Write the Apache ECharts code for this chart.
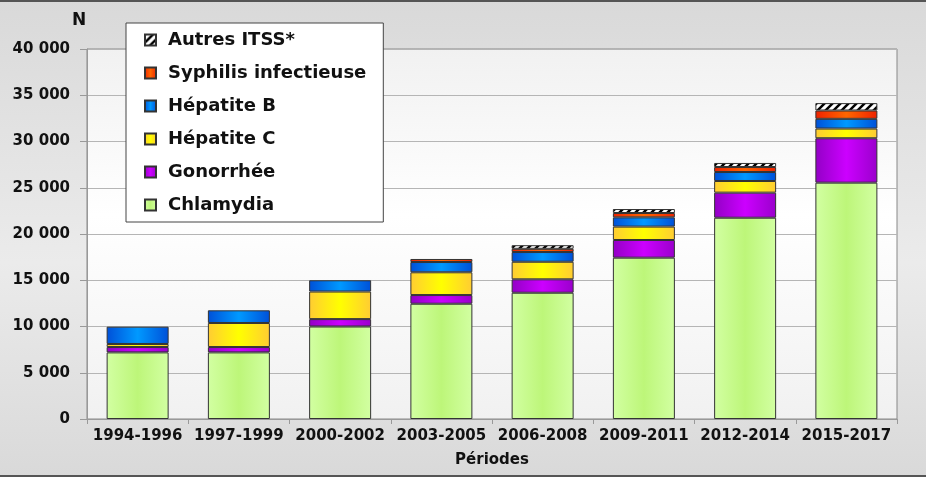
<!DOCTYPE html>
<html>
<head>
<meta charset="utf-8">
<script src="https://cdn.jsdelivr.net/npm/echarts@6/dist/echarts.min.js"></script>
<style>
html, body { margin: 0; padding: 0; }
#chart { width: 926px; height: 477px; }
</style>
</head>
<body>
<div id="chart"></div>
<script>
var periodes = ['1994-1996', '1997-1999', '2000-2002', '2003-2005', '2006-2008', '2009-2011', '2012-2014', '2015-2017'];
var chlamydia = [7200, 7200, 10000, 12460, 13650, 17440, 21760, 25550];
var gonorrhee = [580, 580, 800, 940, 1450, 1910, 2710, 4800];
var hepatiteC = [330, 2600, 2980, 2460, 1900, 1450, 1260, 1050];
var hepatiteB = [1870, 1370, 1220, 1110, 1050, 1000, 970, 1050];
var syphilis = [null, null, null, 330, 350, 470, 540, 900];
var autres = [null, null, null, null, 390, 430, 440, 800];
var yTicks = { min: 0, max: 40000, interval: 5000 };

var FONT = 'DejaVu Sans';

function hgrad(edge, center, edge2){
	return new echarts.graphic.LinearGradient(0, 0, 1, 0, [
		{ offset: 0, color: edge },
		{ offset: 0.5, color: center },
		{ offset: 1, color: edge2 || edge }
	]);
}

function hatch(){
	var c = document.createElement('canvas');
	c.width = 8; c.height = 8;
	var ctx = c.getContext('2d');
	ctx.fillStyle = '#fff';
	ctx.fillRect(0, 0, 8, 8);
	ctx.strokeStyle = '#000';
	ctx.lineWidth = 2.5;
	ctx.beginPath();
	ctx.moveTo(-2, 10); ctx.lineTo(10, -2);
	ctx.moveTo(-2, 2); ctx.lineTo(2, -2);
	ctx.moveTo(6, 10); ctx.lineTo(10, 6);
	ctx.stroke();
	return { image: c, repeat: 'repeat' };
}

function serie(name, data, color){
	return {
		name: name,
		type: 'bar',
		stack: 'total',
		barWidth: 62,
		data: data,
		itemStyle: { color: color, borderColor: '#333', borderWidth: 1 },
		emphasis: { disabled: true }
	};
}

var chart = echarts.init(document.getElementById('chart'));
var option = {
	animation: false,
	backgroundColor: new echarts.graphic.LinearGradient(0, 0, 0, 1, [
		{ offset: 0, color: '#d9d9d9' },
		{ offset: 0.55, color: '#ebebeb' },
		{ offset: 1, color: '#d9d9d9' }
	]),
	textStyle: { fontFamily: FONT },
	// dark frame lines at top and bottom of the picture
	graphic: [
		{ type: 'rect', left: 0, top: 0, shape: { width: 926, height: 2 }, style: { fill: '#555' }, silent: true },
		{ type: 'rect', left: 0, bottom: 0, shape: { width: 926, height: 2 }, style: { fill: '#555' }, silent: true }
	],
	grid: {
		left: 87, right: 29, top: 49, bottom: 58,
		show: true,
		borderColor: '#888', borderWidth: 1,
		backgroundColor: new echarts.graphic.LinearGradient(0, 0, 0, 1, [
			{ offset: 0, color: '#f1f1f1' },
			{ offset: 0.45, color: '#ffffff' },
			{ offset: 1, color: '#f1f1f1' }
		])
	},
	legend: {
		orient: 'vertical',
		left: 126, top: 23,
		data: ['Autres ITSS*', 'Syphilis infectieuse', 'Hépatite B', 'Hépatite C', 'Gonorrhée', 'Chlamydia'],
		icon: 'rect',
		itemWidth: 11, itemHeight: 11,
		itemGap: 15,
		padding: [8, 17, 8, 18],
		backgroundColor: '#fff',
		borderColor: '#444', borderWidth: 1,
		selectedMode: false,
		textStyle: { fontFamily: FONT, fontSize: 18, fontWeight: 'bold', color: '#111', padding: [0, 0, 0, 7] }
	},
	xAxis: {
		type: 'category',
		data: periodes,
		name: 'Périodes',
		nameLocation: 'middle',
		nameGap: 34,
		nameTextStyle: { fontFamily: FONT, fontSize: 15, fontWeight: 'bold', color: '#111' },
		axisLine: { lineStyle: { color: '#999', width: 1 } },
		axisTick: { show: true, length: 5, lineStyle: { color: '#999' } },
		axisLabel: { interval: 0, margin: 10, fontFamily: FONT, fontSize: 15, fontWeight: 'bold', color: '#111' }
	},
	yAxis: {
		type: 'value',
		min: yTicks.min, max: yTicks.max, interval: yTicks.interval,
		name: 'N',
		nameLocation: 'end',
		nameGap: 20,
		nameTextStyle: { fontFamily: FONT, fontSize: 17, fontWeight: 'bold', color: '#111', padding: [0, 16, 0, 0] },
		axisLine: { show: true, lineStyle: { color: '#999', width: 1 } },
		axisTick: { show: true, length: 7, lineStyle: { color: '#999' } },
		splitLine: { lineStyle: { color: '#b5b5b5', width: 1 } },
		axisLabel: {
			margin: 17, fontFamily: FONT, fontSize: 15, fontWeight: 'bold', color: '#111',
			formatter: function(v){ return String(v).replace(/\B(?=(\d{3})+(?!\d))/g, ' '); }
		}
	},
	series: [
		serie('Chlamydia', chlamydia, hgrad('#d2ffa2', '#bdf679')),
		serie('Gonorrhée', gonorrhee, hgrad('#9300c6', '#cc00ff', '#9a00cc')),
		serie('Hépatite C', hepatiteC, hgrad('#ffcc33', '#ffff00')),
		serie('Hépatite B', hepatiteB, hgrad('#0050d8', '#0099ff')),
		serie('Syphilis infectieuse', syphilis, hgrad('#ee2200', '#ff6600')),
		serie('Autres ITSS*', autres, hatch())
	]
};
chart.setOption(option);
</script>
</body>
</html>
